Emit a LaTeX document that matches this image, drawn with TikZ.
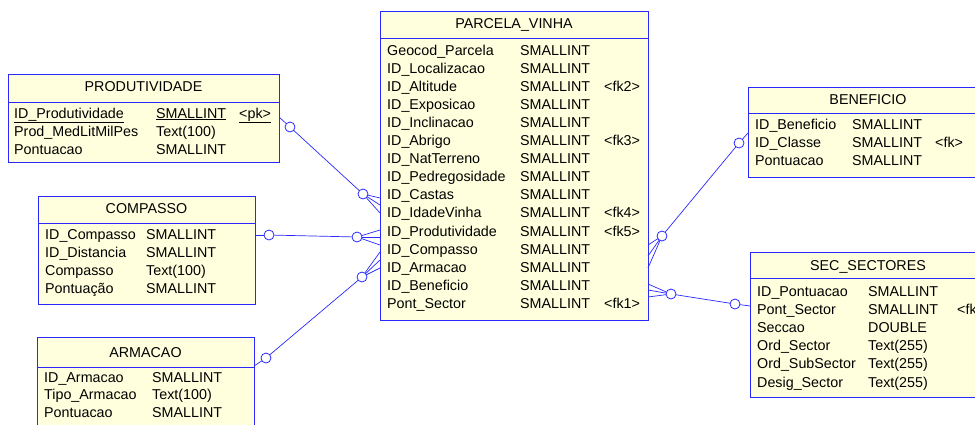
\documentclass[tikz,border=0pt]{standalone}
\usepackage{fontspec}
\setmainfont{Liberation Sans}
\definecolor{erblue}{RGB}{40,40,255}
\definecolor{eryellow}{RGB}{255,255,222}
\tikzset{
  tbl/.style={draw=erblue, fill=eryellow, line width=0.9pt, inner sep=0, anchor=north west},
  hline/.style={draw=erblue, line width=0.9pt},
  circ/.style={circle, draw=erblue, fill=white, line width=0.8pt, minimum size=10pt, inner sep=0},
  conn/.style={draw=erblue, line width=0.7pt},
  txt/.style={anchor=base west, inner sep=0, font=\fontsize{14.3}{16}\selectfont},
  ttl/.style={anchor=base, inner sep=0, font=\fontsize{14.3}{16}\selectfont}
}
\begin{document}
\begin{tikzpicture}[x=1pt, y=-1pt]
\useasboundingbox (0,0) rectangle (975,424);
\clip (0,0) rectangle (975,424);

% ---------- PARCELA_VINHA ----------
\node[tbl, minimum width=268pt, minimum height=309pt] (pv) at (380,11) {};
\draw[hline] (380,38) -- (648,38);
\node[ttl] (pvt) at (514,28) {PARCELA\_VINHA};
\foreach \n/\t/\k [count=\i] in {
  Geocod\_Parcela/SMALLINT/{},
  ID\_Localizacao/SMALLINT/{},
  ID\_Altitude/SMALLINT/{<fk2>},
  ID\_Exposicao/SMALLINT/{},
  ID\_Inclinacao/SMALLINT/{},
  ID\_Abrigo/SMALLINT/{<fk3>},
  ID\_NatTerreno/SMALLINT/{},
  ID\_Pedregosidade/SMALLINT/{},
  ID\_Castas/SMALLINT/{},
  ID\_IdadeVinha/SMALLINT/{<fk4>},
  ID\_Produtividade/SMALLINT/{<fk5>},
  ID\_Compasso/SMALLINT/{},
  ID\_Armacao/SMALLINT/{},
  ID\_Beneficio/SMALLINT/{},
  Pont\_Sector/SMALLINT/{<fk1>}}{
  \node[txt] (pvn\i) at (387,{55+18.1*(\i-1)}) {\n};
  \node[txt] (pvy\i) at (520,{55+18.1*(\i-1)}) {\t};
  \node[txt] (pvk\i) at (604,{55+18.1*(\i-1)}) {\k};
}

% ---------- PRODUTIVIDADE ----------
\node[tbl, minimum width=271pt, minimum height=88pt] (pr) at (8,74) {};
\draw[hline] (8,102) -- (279,102);
\node[ttl] (prt) at (143.5,91) {PRODUTIVIDADE};
\node[txt] (prn1) at (14,118) {\underline{ID\_Produtividade}};
\node[txt] (pry1) at (156,118) {\underline{SMALLINT}};
\node[txt] (prk1) at (239,118) {\underline{<pk>}};
\node[txt] (prn2) at (14,136.5) {Prod\_MedLitMilPes};
\node[txt] (pry2) at (156,136.5) {Text(100)};
\node[txt] (prn3) at (14,154) {Pontuacao};
\node[txt] (pry3) at (156,154) {SMALLINT};

% ---------- COMPASSO ----------
\node[tbl, minimum width=217pt, minimum height=108pt] (co) at (38,196) {};
\draw[hline] (38,223) -- (255,223);
\node[ttl] (cot) at (146.5,213) {COMPASSO};
\foreach \n/\t [count=\i] in {ID\_Compasso/SMALLINT, ID\_Distancia/SMALLINT, Compasso/Text(100), Pontuação/SMALLINT}{
  \node[txt] (con\i) at (45,{239+18.1*(\i-1)}) {\n};
  \node[txt] (coy\i) at (146,{239+18.1*(\i-1)}) {\t};
}

% ---------- ARMACAO ----------
\node[tbl, minimum width=217pt, minimum height=100pt] (ar) at (37,337) {};
\draw[hline] (37,367) -- (254,367);
\node[ttl] (art) at (145.5,357) {ARMACAO};
\foreach \n/\t [count=\i] in {ID\_Armacao/SMALLINT, Tipo\_Armacao/Text(100), Pontuacao/SMALLINT}{
  \node[txt] (arn\i) at (44,{382+17.6*(\i-1)}) {\n};
  \node[txt] (ary\i) at (152,{382+17.6*(\i-1)}) {\t};
}

% ---------- BENEFICIO ----------
\node[tbl, minimum width=240pt, minimum height=90pt] (be) at (748,87) {};
\draw[hline] (748,113) -- (988,113);
\node[ttl] (bet) at (868,104) {BENEFICIO};
\foreach \n/\t/\k [count=\i] in {ID\_Beneficio/SMALLINT/{}, ID\_Classe/SMALLINT/{<fk>}, Pontuacao/SMALLINT/{}}{
  \node[txt] (ben\i) at (755,{129+18.4*(\i-1)}) {\n};
  \node[txt] (bey\i) at (852,{129+18.4*(\i-1)}) {\t};
  \node[txt] (bek\i) at (935,{129+18.4*(\i-1)}) {\k};
}

% ---------- SEC_SECTORES ----------
\node[tbl, minimum width=240pt, minimum height=145pt] (se) at (750,252) {};
\draw[hline] (750,278) -- (990,278);
\node[ttl] (set) at (868,270) {SEC\_SECTORES};
\foreach \n/\t/\k [count=\i] in {ID\_Pontuacao/SMALLINT/{}, Pont\_Sector/SMALLINT/{<fk>}, Seccao/DOUBLE/{}, Ord\_Sector/Text(255)/{}, Ord\_SubSector/Text(255)/{}, Desig\_Sector/Text(255)/{}}{
  \node[txt] (sen\i) at (757,{296+18.2*(\i-1)}) {\n};
  \node[txt] (sey\i) at (868,{296+18.2*(\i-1)}) {\t};
  \node[txt] (sek\i) at (957,{296+18.2*(\i-1)}) {\k};
}

% ---------- connector end points ----------
\coordinate (p1) at (279,117);
\coordinate (p2) at (255,235);
\coordinate (p3) at (254,366);
\coordinate (p4) at (748,133);
\coordinate (p5) at (750,306);
\foreach \y [count=\j] in {198,205,213}{\coordinate (f1\j) at (380,\y);}
\foreach \y [count=\j] in {230,237,245}{\coordinate (f2\j) at (380,\y);}
\foreach \y [count=\j] in {252,260,268}{\coordinate (f3\j) at (380,\y);}
\foreach \y [count=\j] in {245,256,268}{\coordinate (f4\j) at (648,\y);}
\foreach \y [count=\j] in {284,290,297}{\coordinate (f5\j) at (648,\y);}

% ---------- connectors ----------
\path[conn] (p1) -- (290,127) coordinate (q1a);
\path[conn] (q1a) -- (363,194) coordinate (q1b);
\foreach \j in {1,2,3}{\draw[conn] (q1b) -- (f1\j);}
\node[circ] (c1a) at (q1a) {};
\node[circ] (c1b) at (q1b) {};

\path[conn] (p2) -- (269,235) coordinate (q2a);
\path[conn] (q2a) -- (357,237) coordinate (q2b);
\foreach \j in {1,2,3}{\draw[conn] (q2b) -- (f2\j);}
\node[circ] (c2a) at (q2a) {};
\node[circ] (c2b) at (q2b) {};

\path[conn] (p3) -- (266,358) coordinate (q3a);
\path[conn] (q3a) -- (362,277) coordinate (q3b);
\foreach \j in {1,2,3}{\draw[conn] (q3b) -- (f3\j);}
\node[circ] (c3a) at (q3a) {};
\node[circ] (c3b) at (q3b) {};

\path[conn] (p4) -- (739,143) coordinate (q4a);
\path[conn] (q4a) -- (662,236) coordinate (q4b);
\foreach \j in {1,2,3}{\draw[conn] (q4b) -- (f4\j);}
\node[circ] (c4a) at (q4a) {};
\node[circ] (c4b) at (q4b) {};

\path[conn] (p5) -- (735,304) coordinate (q5a);
\path[conn] (q5a) -- (671,294) coordinate (q5b);
\foreach \j in {1,2,3}{\draw[conn] (q5b) -- (f5\j);}
\node[circ] (c5a) at (q5a) {};
\node[circ] (c5b) at (q5b) {};
\end{tikzpicture}
\end{document}
